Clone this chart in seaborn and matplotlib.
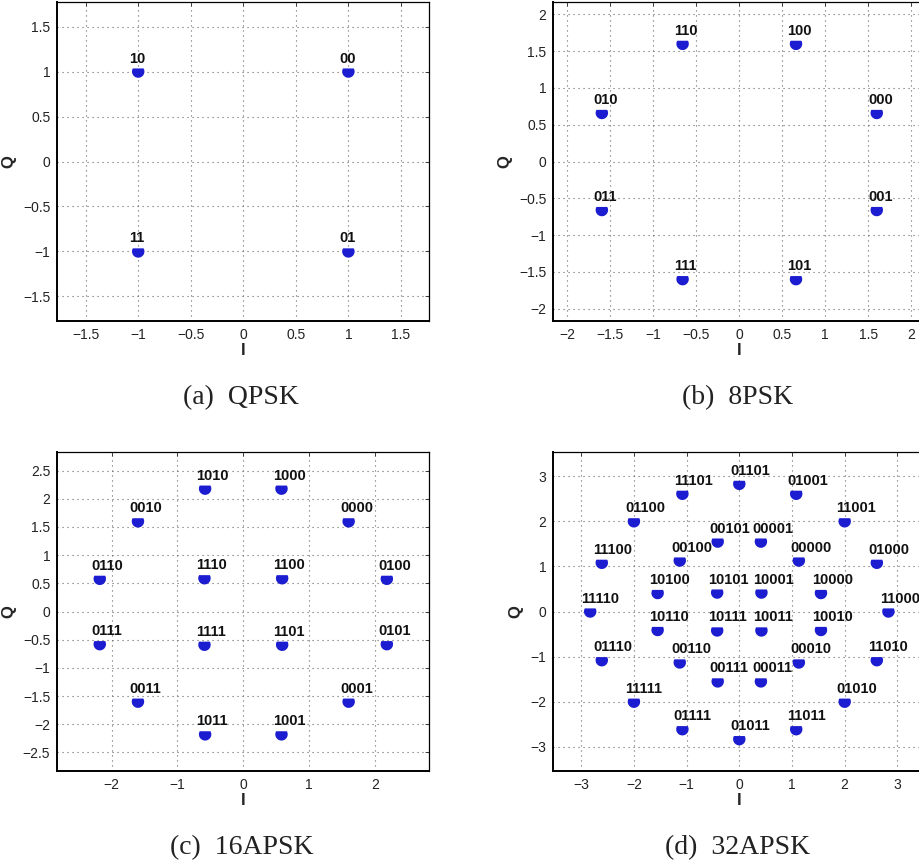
import numpy as np
import pandas as pd
import matplotlib
matplotlib.use("Agg")
import matplotlib.pyplot as plt
from matplotlib.path import Path
import seaborn as sns

# ---------------- data ----------------
qpsk_labels = ["00", "10", "11", "01"]
qpsk_i = [1.0, -1.0, -1.0, 1.0]
qpsk_q = [1.0, 1.0, -1.0, -1.0]

psk8_labels = ["000", "100", "110", "010", "011", "111", "101", "001"]
psk8_i = [1.60, 0.66, -0.66, -1.60, -1.60, -0.66, 0.66, 1.60]
psk8_q = [0.66, 1.60, 1.60, 0.66, -0.66, -1.60, -1.60, -0.66]

apsk16_labels = ["0100", "0000", "1000", "1010", "0010", "0110",
                 "0111", "0011", "1011", "1001", "0001", "0101",
                 "1100", "1110", "1111", "1101"]
apsk16_i = [2.18, 1.60, 0.58, -0.58, -1.60, -2.18,
            -2.18, -1.60, -0.58, 0.58, 1.60, 2.18,
            0.59, -0.59, -0.59, 0.59]
apsk16_q = [0.58, 1.60, 2.18, 2.18, 1.60, 0.58,
            -0.58, -1.60, -2.18, -2.18, -1.60, -0.58,
            0.59, 0.59, -0.59, -0.59]

apsk32_labels = ["11000", "01000", "11001", "01001", "01101", "11101", "01100", "11100",
                 "11110", "01110", "11111", "01111", "01011", "11011", "01010", "11010",
                 "10000", "00000", "00001", "00101", "00100", "10100",
                 "10110", "00110", "00111", "00011", "00010", "10010",
                 "10001", "10101", "10111", "10011"]
apsk32_i = [2.83, 2.61, 2.00, 1.08, 0.00, -1.08, -2.00, -2.61,
            -2.83, -2.61, -2.00, -1.08, 0.00, 1.08, 2.00, 2.61,
            1.55, 1.13, 0.41, -0.41, -1.13, -1.55,
            -1.55, -1.13, -0.41, 0.41, 1.13, 1.55,
            0.42, -0.42, -0.42, 0.42]
apsk32_q = [0.00, 1.08, 2.00, 2.61, 2.83, 2.61, 2.00, 1.08,
            0.00, -1.08, -2.00, -2.61, -2.83, -2.61, -2.00, -1.08,
            0.41, 1.13, 1.55, 1.55, 1.13, 0.41,
            -0.41, -1.13, -1.55, -1.55, -1.13, -0.41,
            0.42, 0.42, -0.42, -0.42]

captions = ["(a)  QPSK", "(b)  8PSK", "(c)  16APSK", "(d)  32APSK"]

# ---------------- style ----------------
sns.set_theme(style="white")
plt.rcParams["font.family"] = ["Liberation Sans", "DejaVu Sans"]
plt.rcParams["axes.unicode_minus"] = True

W, H = 920, 863
fig = plt.figure(figsize=(W / 100, H / 100), dpi=100)

# circle marker with a flat (clipped) top
t0 = np.arcsin(0.5)
ang = np.linspace(np.pi - t0, 2 * np.pi + t0, 60)
verts = np.column_stack([np.cos(ang), np.sin(ang)])
verts = np.vstack([verts, verts[:1]])
codes = [Path.MOVETO] + [Path.LINETO] * (len(verts) - 2) + [Path.CLOSEPOLY]
half_marker = Path(verts, codes)

blue = "#1c1cd0"

panels = [
    dict(lab=qpsk_labels, i=qpsk_i, q=qpsk_q, lim=1.77,
         xt=np.arange(-1.5, 1.51, 0.5), yt=np.arange(-1.5, 1.51, 0.5),
         pos=(57.3, 2.3)),
    dict(lab=psk8_labels, i=psk8_i, q=psk8_q, lim=2.165,
         xt=np.arange(-2, 2.01, 0.5), yt=np.arange(-2, 2.01, 0.5),
         pos=(553.3, 2.3)),
    dict(lab=apsk16_labels, i=apsk16_i, q=apsk16_q, lim=2.825,
         xt=np.arange(-2, 2.01, 1), yt=np.arange(-2.5, 2.51, 0.5),
         pos=(57.3, 452.3)),
    dict(lab=apsk32_labels, i=apsk32_i, q=apsk32_q, lim=3.53,
         xt=np.arange(-3, 3.01, 1), yt=np.arange(-3, 3.01, 1),
         pos=(553.3, 452.3)),
]

aw, ah = 372.0, 318.4

def fmt(v):
    s = ("%g" % v)
    return s.replace("-", "\u2212")

for k, p in enumerate(panels):
    x0, y0 = p["pos"]
    ax = fig.add_axes([x0 / W, 1 - (y0 + ah) / H, aw / W, ah / H])
    df = pd.DataFrame({"I": p["i"], "Q": p["q"], "label": p["lab"]})
    sns.scatterplot(data=df, x="I", y="Q", ax=ax, marker=half_marker,
                    s=80, color=blue, edgecolor="none", linewidth=0, zorder=3,
                    legend=False)
    for _, r in df.iterrows():
        ax.annotate(r["label"], (r["I"], r["Q"]), xytext=(-8.7, 9.0),
                    textcoords="offset pixels", ha="left", va="baseline",
                    fontsize=10.5, fontweight="bold", color="#111111", zorder=4)
    lim = p["lim"]
    ax.set_xlim(-lim, lim)
    ax.set_ylim(-lim, lim)
    ax.set_xticks(p["xt"])
    ax.set_yticks(p["yt"])
    ax.set_xticklabels([fmt(v) for v in p["xt"]])
    ax.set_yticklabels([fmt(v) for v in p["yt"]])
    ax.tick_params(direction="in", length=3, width=0.6, labelsize=10,
                   colors="#222222", top=True, right=True, pad=5)
    ax.grid(True, linestyle=(0, (1, 3.5)), color="#666666", linewidth=0.8)
    for side in ["left", "bottom"]:
        ax.spines[side].set_linewidth(1.4)
        ax.spines[side].set_color("black")
    for side in ["top", "right"]:
        ax.spines[side].set_linewidth(0.9)
        ax.spines[side].set_color("black")
    ax.set_xlabel("I", fontsize=12, fontweight="bold", labelpad=1)
    ax.set_ylabel("Q", fontsize=12, fontweight="bold", labelpad=5)
    cx = (x0 + aw / 2 - 2) / W
    cy = 1 - (y0 + ah + 83) / H
    fig.text(cx, cy, captions[k], ha="center", va="baseline", fontsize=20,
             family=["Liberation Serif", "DejaVu Serif"], color="#222222")

fig.savefig("out.png", dpi=100)
